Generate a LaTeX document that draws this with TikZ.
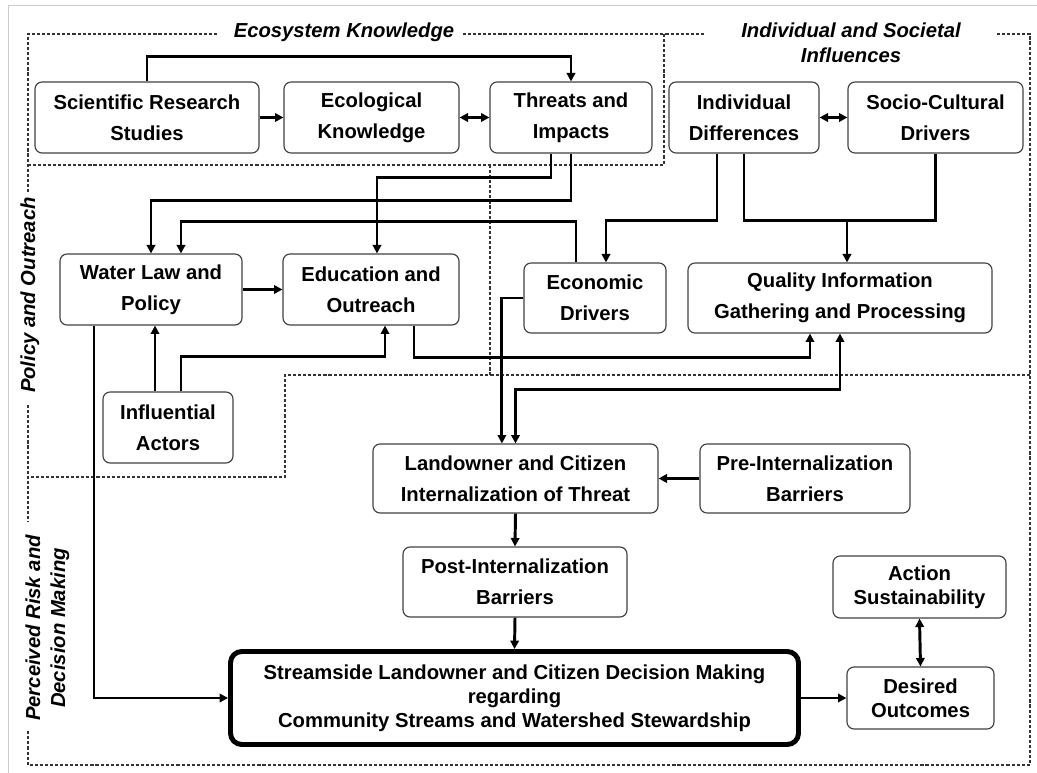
\documentclass[tikz,border=0pt]{standalone}
\usepackage{fontspec}
\setmainfont{Liberation Sans}
\usetikzlibrary{arrows.meta}
\tikzset{
  box/.style={rectangle, rounded corners=5pt, draw=black!75, line width=0.8pt,
              font=\fontsize{14.4}{22}\selectfont\bfseries, align=center,
              minimum height=1.775cm, inner sep=2pt},
  tightBox/.style={box, font=\fontsize{14.4}{17}\selectfont\bfseries},
  decisionBox/.style={tightBox, draw=black, line width=3.5pt, rounded corners=8pt},
  solidArrow/.style={-{Triangle[length=6pt,width=6pt]}, line width=2.1pt},
  twoWayArrow/.style={{Triangle[length=6pt,width=6pt]}-{Triangle[length=6pt,width=6pt]}, line width=2.1pt},
  plainLine/.style={line width=2.1pt},
  regionLine/.style={draw=black!80, line width=0.9pt, dash pattern=on 2.2pt off 1.4pt},
  regionTitle/.style={font=\fontsize{14.4}{17.8}\selectfont\bfseries\itshape, align=center, inner sep=0pt}
}

\begin{document}
\begin{tikzpicture}
\useasboundingbox (0,0) rectangle (25.925,-19.325);

% Frame of the scan
\draw[black!20, line width=0.6pt] (0.2,-19.325) -- (0.2,-0.125) -- (25.925,-0.125);

% Region borders
\draw[regionLine] (0.7,-4.8) -- (0.7,-0.85) -- (5.425,-0.85);
\draw[regionLine] (11.575,-0.85) -- (17.625,-0.85);
\draw[regionLine] (24.925,-0.85) -- (25.75,-0.85) -- (25.75,-19.125) -- (0.7,-19.125) -- (0.7,-18.25);
\draw[regionLine] (0.7,-10.125) -- (0.7,-13.05);
\draw[regionLine] (16.6,-0.85) -- (16.6,-4.125) -- (0.7,-4.125);
\draw[regionLine] (12.25,-4.125) -- (12.25,-9.375);
\draw[regionLine] (25.75,-9.375) -- (7.125,-9.375) -- (7.125,-11.925) -- (0.7,-11.925);

% Region titles
\node[regionTitle] (ecoTitle) at (8.6,-0.8) {Ecosystem Knowledge};
\node[regionTitle] (indTitle) at (21.275,-1.0625) {Individual and Societal\\Influences};
\node[regionTitle, rotate=90] (polTitle) at (0.75,-7.375) {Policy and Outreach};
\node[regionTitle, rotate=90] (riskTitle) at (1.1875,-15.7) {Perceived Risk and\\Decision Making};

% Top row
\node[box, minimum width=5.6cm] (sci) at (3.675,-2.9375) {Scientific Research\\Studies};
\node[box, minimum width=4.375cm] (eco) at (9.2875,-2.9375) {Ecological\\Knowledge};
\node[box, minimum width=4.05cm] (thr) at (14.275,-2.9375) {Threats and\\Impacts};
\node[box, minimum width=3.75cm] (ind) at (18.6,-2.9375) {Individual\\Differences};
\node[box, minimum width=4.375cm] (soc) at (23.3875,-2.9375) {Socio-Cultural\\Drivers};

% Middle row
\node[box, minimum width=4.55cm] (law) at (3.775,-7.2375) {Water Law and\\Policy};
\node[box, minimum width=4.4cm] (edu) at (9.275,-7.2375) {Education and\\Outreach};
\node[box, minimum width=3.55cm, minimum height=1.75cm] (econ) at (14.875,-7.45) {Economic\\Drivers};
\node[box, minimum width=7.6cm, minimum height=1.75cm] (qual) at (21.0,-7.45) {Quality Information\\Gathering and Processing};
\node[box, minimum width=3.25cm] (infl) at (4.2,-10.6875) {Influential\\Actors};

% Internalization
\node[box, minimum width=7.125cm, minimum height=1.725cm] (land) at (12.8875,-11.9625) {Landowner and Citizen\\Internalization of Threat};
\node[box, minimum width=5.25cm, minimum height=1.725cm] (pre) at (20.125,-11.9625) {Pre-Internalization\\Barriers};
\node[box, minimum width=5.6cm, minimum height=1.75cm] (post) at (12.875,-14.55) {Post-Internalization\\Barriers};

% Decision and outcomes
\node[tightBox, minimum width=4.325cm, minimum height=1.55cm] (act) at (22.9875,-14.675) {Action\\Sustainability};
\node[decisionBox, minimum width=14.2cm, minimum height=2.325cm] (dec) at (12.8625,-17.45) {Streamside Landowner and Citizen Decision Making\\regarding\\Community Streams and Watershed Stewardship};
\node[tightBox, minimum width=3.675cm, minimum height=1.55cm] (des) at (23.0125,-17.45) {Desired\\Outcomes};

% Ecosystem knowledge links
\draw[solidArrow] (sci.east) -- (eco.west);
\draw[twoWayArrow] (eco.east) -- (thr.west);
\draw[solidArrow] (sci.north) -- ++(0,0.625) -| (thr.north);

% Individual and societal links
\draw[twoWayArrow] (ind.east) -- (soc.west);
\draw[solidArrow] ([xshift=-0.675cm]ind.south) -- ++(0,-1.675) -| ([xshift=0.275cm]econ.north);
\draw[plainLine] (ind.south) -- ++(0,-1.675) coordinate (merge) -| (soc.south);
\coordinate (qualIn) at ([xshift=0.175cm]qual.north);
\draw[solidArrow] (merge -| qualIn) -- (qualIn);

% Threats into policy and outreach
\draw[solidArrow] ([xshift=-0.5cm]thr.south) -- ++(0,-0.6) -| ([xshift=0.15cm]edu.north);
\draw[solidArrow] (thr.south) -- ++(0,-1.175) -| (law.north);
\draw[solidArrow] ([xshift=-0.475cm]econ.north) -- ++(0,1.025) -| ([xshift=0.75cm]law.north);

% Policy and outreach links
\draw[solidArrow] (law.east) -- (edu.west);
\coordinate (inflUp) at ([xshift=-0.325cm]infl.north);
\draw[solidArrow] (inflUp) -- (inflUp |- law.south);
\draw[solidArrow] ([xshift=0.325cm]infl.north) -- ++(0,0.875) -| ([xshift=0.35cm]edu.south);
\draw[solidArrow] ([xshift=1.075cm]edu.south) -- ++(0,-0.8) -| ([xshift=-0.75cm]qual.south);
\draw[solidArrow] ([xshift=-1.425cm]law.south) |- (dec.west);

% Into internalization
\draw[solidArrow] (econ.west) -| ([xshift=-0.34cm]land.north);
\draw[twoWayArrow] (qual.south) -- ++(0,-1.4) -| (land.north);
\draw[solidArrow] (pre.west) -- (land.east);
\draw[solidArrow] (land.south) -- (post.north);
\draw[solidArrow] (post.south) -- (dec.north);

% Outcomes
\draw[solidArrow] (dec.east) -- (des.west);
\draw[twoWayArrow] (act.south) -- (des.north);

\end{tikzpicture}
\end{document}
